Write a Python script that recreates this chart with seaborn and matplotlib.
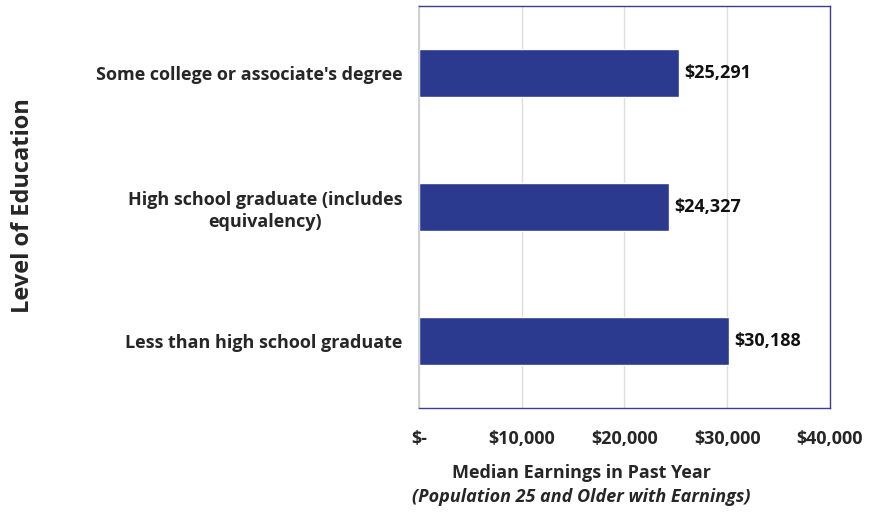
import matplotlib
matplotlib.use("Agg")
import matplotlib.pyplot as plt
import seaborn as sns
import pandas as pd

# data
categories = ["Some college or associate's degree",
              "High school graduate (includes\nequivalency)",
              "Less than high school graduate"]
earnings = [25291, 24327, 30188]
xticks = [0, 10000, 20000, 30000, 40000]
xtick_labels = ["$-", "$10,000", "$20,000", "$30,000", "$40,000"]

sns.set_theme(style="white")
plt.rcParams['font.family'] = ['Open Sans', 'DejaVu Sans']

df = pd.DataFrame({"level": categories, "earnings": earnings})

fig = plt.figure(figsize=(8.69, 5.12), dpi=100)
ax = fig.add_axes([0.482, 0.203, 0.473, 0.785])

sns.barplot(data=df, x="earnings", y="level", color="#2B3A8E",
            width=0.36, ax=ax, saturation=1)

ax.set_xlim(0, 40000)
ax.set_xticks(xticks)
ax.set_xticklabels(xtick_labels, fontsize=13, fontweight="bold")
ax.tick_params(axis="x", pad=16, length=0)
ax.tick_params(axis="y", length=0, pad=12)
for lab in ax.get_yticklabels():
    lab.set_fontsize(13)
    lab.set_fontweight("bold")
    lab.set_horizontalalignment("right")
    lab.set_multialignment("center")
    lab.set_linespacing(1.3)

ax.xaxis.grid(True, color="#DDDDDD", linewidth=1)
ax.set_axisbelow(True)
for s in ["top", "right", "bottom"]:
    ax.spines[s].set_color("#3B3F8C")
    ax.spines[s].set_linewidth(1)
ax.spines["left"].set_color("#CCCCCC")

ax.set_xlabel("")
ax.set_ylabel("")

for i, v in enumerate(earnings):
    ax.text(v + 500, i, f"${v:,}", va="center", ha="left",
            fontsize=13, fontweight="bold", color="#111111")

fig.text(0.669, 0.076, "Median Earnings in Past Year", ha="center",
         va="center", fontsize=13, fontweight="bold")
fig.text(0.669, 0.03, "(Population 25 and Older with Earnings)", ha="center",
         va="center", fontsize=13, fontweight="bold", style="italic")
fig.text(0.026, 0.598, "Level of Education", rotation=90, ha="center",
         va="center", fontsize=17, fontweight="bold")

plt.savefig("out.png", dpi=100)
